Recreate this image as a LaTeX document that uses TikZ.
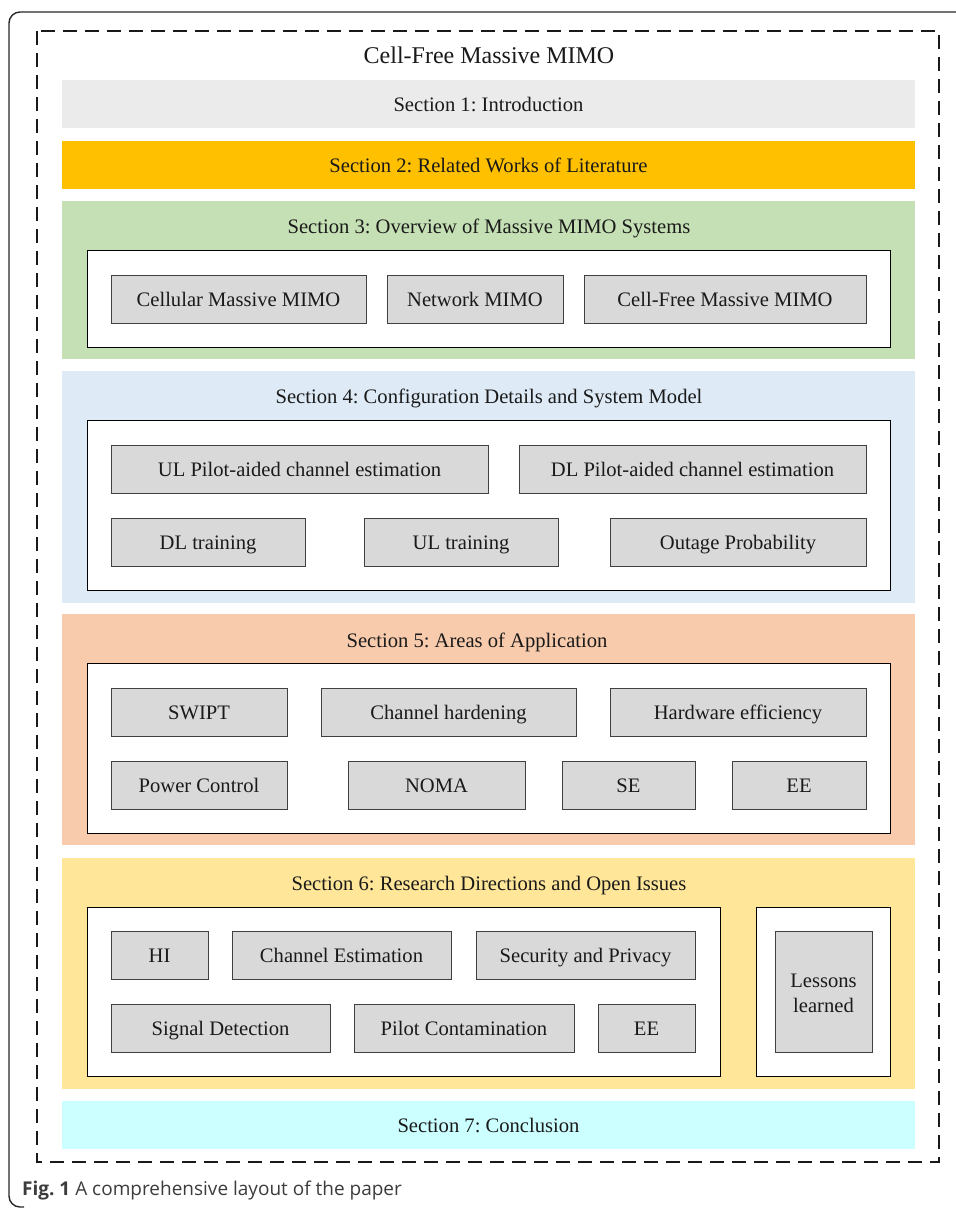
\documentclass[tikz,border=0pt]{standalone}
\usepackage{fontspec}
\setmainfont{Liberation Serif}
\newfontfamily\capfont{Open Sans}
\frenchspacing
\definecolor{secone}{HTML}{EBEBEB}
\definecolor{sectwo}{HTML}{FFC000}
\definecolor{secthree}{HTML}{C5E0B4}
\definecolor{secfour}{HTML}{DEEBF7}
\definecolor{secfive}{HTML}{F8CBAD}
\definecolor{secsix}{HTML}{FFE699}
\definecolor{secseven}{HTML}{CCFFFF}
\definecolor{boxgray}{HTML}{D9D9D9}
\definecolor{txt}{HTML}{1A1A1A}
\definecolor{capgray}{HTML}{3C3C3C}
\tikzset{
  fixedtext/.style={text height=18pt, text depth=2.6pt},
  band/.style={draw=none, inner sep=0pt, font=\fontsize{20.6}{24}\selectfont, text=txt, fixedtext},
  whitebox/.style={draw=black, fill=white, line width=1pt, inner sep=0pt},
  grayplain/.style={draw=black!75, fill=boxgray, line width=1pt, inner sep=0pt, font=\fontsize{20.6}{25}\selectfont, text=txt, align=center},
  graybox/.style={grayplain, fixedtext},
  bandtitle/.style={font=\fontsize{20.6}{24}\selectfont, text=txt, inner sep=0pt, fixedtext},
}
% \rbox{style}{name}{x1}{y1}{x2}{y2}{text}
\newcommand\rbox[7]{\node[#1, minimum width={(#5-#3)*1pt}, minimum height={(#6-#4)*1pt}] (#2) at ({(#3+#5)/2},{(#4+#6)/2}) {#7};}
\begin{document}
\begin{tikzpicture}[x=1pt,y=-1pt]
\useasboundingbox (0,0) rectangle (956,1208);
% outer frame
\draw[line width=1.4pt, black!85, rounded corners=11pt] (24,1207) -- (9,1207) -- (9,12) -- (960,12);
% dashed frame
\draw[line width=1.5pt, black!90, dash pattern=on 14pt off 8pt] (37,31) rectangle (939,1162);
\node[font=\fontsize{24}{28}\selectfont, text=txt, inner sep=0pt, text height=20pt, text depth=3pt] (title) at (489,55) {Cell-Free Massive MIMO};
% section 1, 2
\rbox{band, fill=secone}{s1}{62}{80}{915}{128}{Section 1: Introduction}
\rbox{band, fill=sectwo}{s2}{62}{141}{915}{189}{Section 2: Related Works of Literature}
% section 3
\rbox{band, fill=secthree}{s3}{62}{201}{915}{359}{}
\node[bandtitle] (s3t) at (489,226) {Section 3: Overview of Massive MIMO Systems};
\rbox{whitebox}{w3}{87}{250}{890}{347}{}
\rbox{graybox}{b31}{111}{275}{366}{323}{Cellular Massive MIMO}
\rbox{graybox}{b32}{387}{275}{563}{323}{Network MIMO}
\rbox{graybox}{b33}{584}{275}{866}{323}{Cell-Free Massive MIMO}
% section 4
\rbox{band, fill=secfour}{s4}{62}{371}{915}{603}{}
\node[bandtitle] (s4t) at (489,396) {Section 4: Configuration Details and System Model};
\rbox{whitebox}{w4}{87}{420}{890}{590}{}
\rbox{graybox}{b41}{111}{445}{488}{493}{UL Pilot-aided channel estimation}
\rbox{graybox}{b42}{519}{445}{866}{493}{DL Pilot-aided channel estimation}
\rbox{graybox}{b43}{111}{518}{305}{566}{DL training}
\rbox{graybox}{b44}{364}{518}{558}{566}{UL training}
\rbox{graybox}{b45}{610}{518}{866}{566}{Outage Probability}
% section 5
\rbox{band, fill=secfive}{s5}{62}{614}{915}{845}{}
\node[bandtitle] (s5t) at (477,640) {Section 5: Areas of Application};
\rbox{whitebox}{w5}{87}{663}{890}{833}{}
\rbox{graybox}{b51}{111}{688}{287}{736}{SWIPT}
\rbox{graybox}{b52}{321}{688}{576}{736}{Channel hardening}
\rbox{graybox}{b53}{610}{688}{866}{736}{Hardware efficiency}
\rbox{graybox}{b54}{111}{761}{287}{809}{Power Control}
\rbox{graybox}{b55}{348}{761}{525}{809}{NOMA}
\rbox{graybox}{b56}{562}{761}{695}{809}{SE}
\rbox{graybox}{b57}{732}{761}{866}{809}{EE}
% section 6
\rbox{band, fill=secsix}{s6}{62}{858}{915}{1089}{}
\node[bandtitle] (s6t) at (489,883) {Section 6: Research Directions and Open Issues};
\rbox{whitebox}{w6}{87}{907}{720}{1076}{}
\rbox{whitebox}{w6b}{756}{907}{890}{1076}{}
\rbox{graybox}{b61}{111}{931}{208}{979}{HI}
\rbox{graybox}{b62}{232}{931}{451}{979}{Channel Estimation}
\rbox{graybox}{b63}{476}{931}{695}{979}{Security and Privacy}
\rbox{graybox}{b64}{111}{1004}{330}{1052}{Signal Detection}
\rbox{graybox}{b65}{354}{1004}{574}{1052}{Pilot Contamination}
\rbox{graybox}{b66}{598}{1004}{695}{1052}{EE}
\rbox{grayplain}{b67}{775}{931}{872}{1052}{\raisebox{-3pt}[\height][\depth]{\begin{tabular}{@{}c@{}}Lessons\\learned\end{tabular}}}
% section 7
\rbox{band, fill=secseven}{s7}{62}{1101}{915}{1149}{Section 7: Conclusion}
% caption
\node[anchor=west, inner sep=0pt, font=\capfont\fontsize{19}{22}\selectfont, text=capgray] (cap) at (22,1190) {\textbf{Fig. 1} A comprehensive layout of the paper};
\end{tikzpicture}
\end{document}
